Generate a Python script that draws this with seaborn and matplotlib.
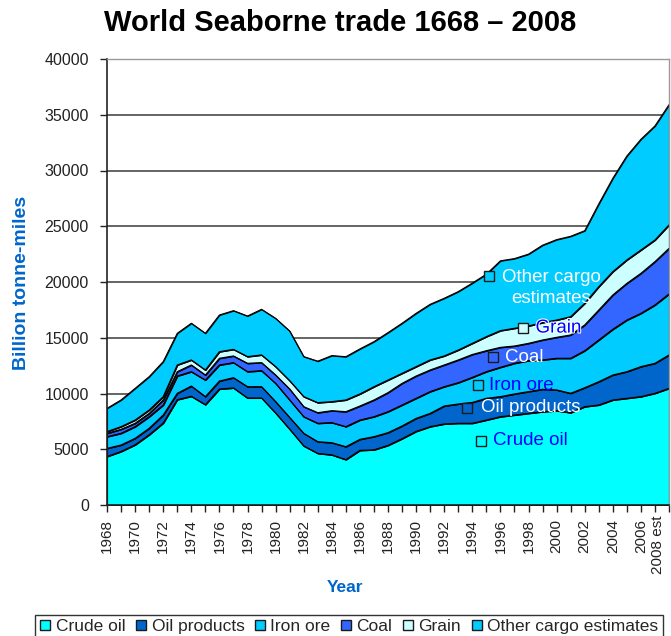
import matplotlib
matplotlib.use("Agg")
import matplotlib.pyplot as plt
from matplotlib.lines import Line2D
from matplotlib.transforms import ScaledTranslation
import matplotlib.patheffects as pe
import numpy as np
import pandas as pd
import seaborn as sns

# ---------------- data ----------------
years = list(range(1968, 2009))
tick_labels = [str(y) if (y % 2 == 0 and y != 2008) else "" for y in years]
tick_labels[-1] = "2008 est"

series_names = ["Crude oil", "Oil products", "Iron ore", "Coal", "Grain", "Other cargo estimates"]

crude_oil = [4350, 4800, 5400, 6300, 7350, 9450, 9750, 9000, 10400, 10500,
             9600, 9600, 8250, 6800, 5300, 4630, 4500, 4070, 4900, 4950,
             5350, 5950, 6600, 7030, 7270, 7330, 7330, 7620, 7920, 8070,
             8220, 8370, 8460, 8280, 8820, 8970, 9420, 9570, 9720, 10020, 10460]
oil_products = [730, 580, 580, 580, 720, 570, 920, 720, 720, 920,
                1010, 1010, 1020, 1050, 1130, 1050, 1090, 1160, 990, 1180,
                1140, 1140, 1170, 1190, 1610, 1730, 1870, 1950, 1800, 1890,
                1950, 2010, 1860, 1740, 1700, 2090, 2240, 2390, 2690, 2690, 3000]
iron_ore = [1050, 1050, 1050, 1040, 900, 1550, 1290, 1490, 1440, 1350,
            1350, 1440, 1640, 1570, 1490, 1650, 1800, 1800, 1730, 1790,
            1880, 1880, 1800, 1950, 1730, 1910, 2250, 2390, 2630, 2750,
            2780, 2630, 2840, 3140, 3320, 3740, 4100, 4630, 4780, 5230, 5470]
coal = [300, 360, 300, 300, 450, 390, 600, 450, 600, 600,
        750, 720, 750, 980, 900, 950, 1070, 1340, 1260, 1500,
        1710, 1940, 2000, 1940, 1950, 2040, 2050, 1880, 1790, 1550,
        1550, 1790, 1880, 2090, 2310, 2690, 3080, 3290, 3590, 3890, 4090]
grain = [150, 240, 290, 300, 300, 600, 450, 450, 590, 590,
         600, 690, 750, 750, 900, 900, 810, 1050, 1080, 1190,
         1130, 900, 840, 900, 810, 890, 1000, 1260, 1500, 1590,
         1560, 1560, 1550, 1640, 1940, 2090, 2090, 2100, 2090, 1940, 2100]
other_cargo = [2090, 2390, 2840, 2990, 3140, 2840, 3290, 3290, 3290, 3470,
               3640, 4090, 4330, 4450, 3590, 3720, 4130, 3880, 4040, 4040,
               4250, 4490, 4780, 4990, 5170, 5240, 5400, 5600, 6260, 6250,
               6440, 6940, 7210, 7210, 6510, 7420, 8370, 9320, 9930, 10230, 10780]

colors = ["#00FFFF", "#0066CC", "#00CCFF", "#3366FF", "#CCFFFF", "#00CCFF"]

df = pd.DataFrame({"year": years, "Crude oil": crude_oil, "Oil products": oil_products,
                   "Iron ore": iron_ore, "Coal": coal, "Grain": grain,
                   "Other cargo estimates": other_cargo})

# ---------------- style ----------------
sns.set_theme(style="white")
plt.rcParams["font.family"] = ["Liberation Sans", "DejaVu Sans"]

fig = plt.figure(figsize=(6.71, 6.36), dpi=100)
ax = fig.add_axes([107 / 671, 131 / 636, 562 / 671, 446 / 636])

ax.set_facecolor("white")
for v in range(5000, 40001, 5000):
    ax.axhline(v, color="#3a3a3a", lw=1.1, zorder=0)

ax.stackplot(df["year"], *[df[n] for n in series_names], colors=colors,
             edgecolor="black", linewidth=0.8, zorder=2)

# boundary lines drawn through seaborn
cum = df[series_names].cumsum(axis=1)
for n in series_names:
    sns.lineplot(x=df["year"], y=cum[n], ax=ax, color="black", lw=0.8, zorder=3, legend=False)

ax.set_xlim(1968, 2008)
ax.set_ylim(0, 40000)
ax.set_xticks(years)
ax.set_xticklabels(tick_labels, rotation=90, fontsize=11, color="#222222")
ax.set_yticks(range(0, 40001, 5000))
ax.set_yticklabels([str(v) for v in range(0, 40001, 5000)], fontsize=11.5, color="#222222")
ax.tick_params(axis="x", direction="out", length=5, width=1, color="#222222", pad=5, bottom=True)
ax.tick_params(axis="y", direction="out", length=5, width=1, color="#222222", pad=8, left=True)

# keep the last category label inside the figure
last = ax.get_xticklabels()[-1]
last.set_transform(last.get_transform() + ScaledTranslation(-11 / 100, 3 / 100, fig.dpi_scale_trans))

for s in ["left", "bottom"]:
    ax.spines[s].set_color("#222222")
    ax.spines[s].set_linewidth(1.2)
for s in ["top", "right"]:
    ax.spines[s].set_color("#9a9a9a")
    ax.spines[s].set_linewidth(1.0)
for s in ax.spines.values():
    s.set_zorder(5)

ax.set_xlabel("")
ax.set_ylabel("")
fig.text(22 / 671, 1 - 283 / 636, "Billion tonne-miles", rotation=90, ha="center", va="center",
         fontsize=14, fontweight="bold", color="#0066CC")
fig.text(345 / 671, 1 - 587 / 636, "Year", ha="center", va="center",
         fontsize=12.5, fontweight="bold", color="#0066CC")
fig.text(340 / 671, 1 - 23 / 636, "World Seaborne trade 1668 \u2013 2008", ha="center", va="center",
         fontsize=21, fontweight="bold", color="black")

# ---------------- in-chart data labels ----------------
label_specs = [
    ("Other cargo estimates", (1995.2, 20540), (1999.6, 19460), "white", "center", "Other cargo\nestimates"),
    ("Grain", (1997.6, 15870), (1998.5, 15870), "#0000FF", "left", "Grain"),
    ("Coal", (1995.5, 13270), (1996.3, 13270), "white", "left", "Coal"),
    ("Iron ore", (1994.4, 10760), (1995.2, 10760), "#0000FF", "left", "Iron ore"),
    ("Oil products", (1993.6, 8700), (1994.6, 8700), "white", "left", "Oil products"),
    ("Crude oil", (1994.6, 5740), (1995.5, 5740), "#0000FF", "left", "Crude oil"),
]
for name, (mx, my), (tx, ty), tc, ha, txt in label_specs:
    c = colors[series_names.index(name)]
    ax.plot([mx], [my], marker="s", markersize=7.5, markerfacecolor=c,
            markeredgecolor="#1a1a1a", markeredgewidth=1.0, linestyle="none", zorder=6)
    t = ax.text(tx, ty, txt, color=tc, fontsize=13.5, ha=ha, va="center",
                multialignment="center", linespacing=1.25, zorder=7)
    if name == "Grain":
        t.set_path_effects([pe.withStroke(linewidth=1.5, foreground="white")])

# ---------------- legend ----------------
handles = [Line2D([0], [0], marker="s", linestyle="none", markersize=7.5,
                  markerfacecolor=c, markeredgecolor="#1a1a1a", markeredgewidth=1.0)
           for c in colors]
leg = fig.legend(handles, series_names, loc="lower left", bbox_to_anchor=(35 / 671, -0.004),
                 ncol=6, frameon=True, fancybox=False, shadow=False, fontsize=12.5,
                 handlelength=0.7, handletextpad=0.25, columnspacing=0.55,
                 borderpad=0.25, borderaxespad=0.0)
leg.get_frame().set_edgecolor("black")
leg.get_frame().set_linewidth(1.0)

fig.savefig("out.png", dpi=100)
